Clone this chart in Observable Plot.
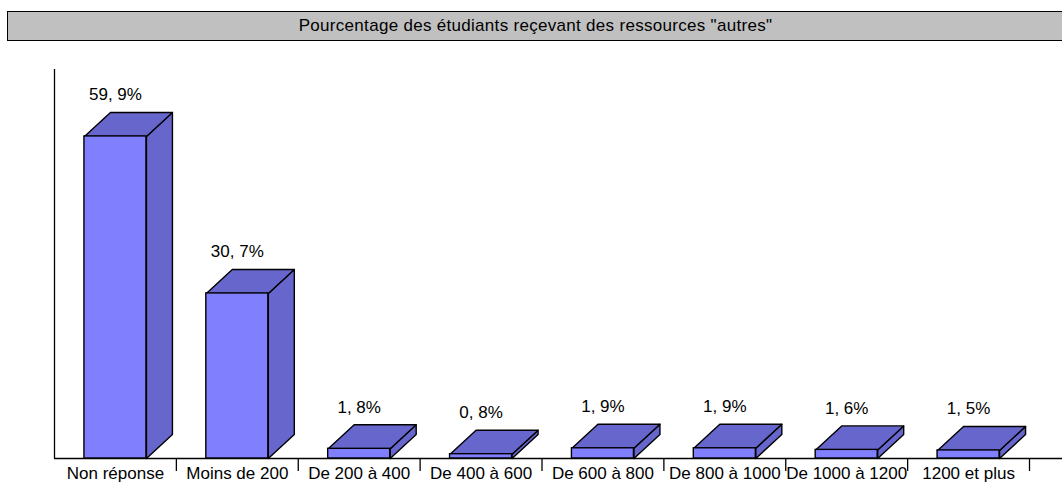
<!DOCTYPE html>
<html>
<head>
<meta charset="utf-8">
<script src="https://cdn.jsdelivr.net/npm/d3@7"></script>
<script src="https://cdn.jsdelivr.net/npm/@observablehq/plot@0.6"></script>
<style>
  html, body { margin: 0; padding: 0; background: #fff; }
  #wrap { position: relative; width: 1062px; height: 483px; overflow: hidden; }
  #title {
    position: absolute; left: 7px; top: 11px; width: 1057px; height: 30px;
    box-sizing: border-box; border: 1.5px solid #000; background: #C0C0C0;
    font-family: "Liberation Sans", Arial, sans-serif; font-size: 17px;
    line-height: 27px; text-align: center; color: #000; letter-spacing: 0.3px;
  }
  #chart { position: absolute; left: 0; top: 0; }
</style>
</head>
<body>
<div id="wrap">
  <div id="chart"></div>
  <div id="title"></div>
</div>
<script>
const titleText = 'Pourcentage des étudiants reçevant des ressources "autres"';
const categories = ["Non réponse", "Moins de 200", "De 200 à 400", "De 400 à 600", "De 600 à 800", "De 800 à 1000", "De 1000 à 1200", "1200 et plus"];
const values = [59.9, 30.7, 1.8, 0.8, 1.9, 1.9, 1.6, 1.5];
const yMax = 72.35;

// layout constants (pixels)
const W = 1062, H = 483, mL = 54, mR = 33, mT = 69, mB = 25;
const pxPerX = (W - mL - mR) / categories.length;
const pxPerY = (H - mT - mB) / yMax;
const depthX = 26 / pxPerX, depthY = 24 / pxPerY;
const halfW = 31 / pxPerX;
const tickLen = 13 / pxPerY;

const bars = categories.map((c, i) => ({
  cat: c, v: values[i], i,
  x0: i + 0.5 - halfW, x1: i + 0.5 + halfW, xc: i + 0.5,
  label: values[i].toFixed(1).replace(".", ", ") + "%"
}));

const tops = [], sides = [];
bars.forEach(b => {
  [[b.x0, b.v], [b.x1, b.v], [b.x1 + depthX, b.v + depthY], [b.x0 + depthX, b.v + depthY]]
    .forEach(([x, y]) => tops.push({id: b.i, x, y}));
  [[b.x1, 0], [b.x1, b.v], [b.x1 + depthX, b.v + depthY], [b.x1 + depthX, depthY]]
    .forEach(([x, y]) => sides.push({id: b.i, x, y}));
});

const boundaries = d3.range(1, categories.length + 1);

const chart = Plot.plot({
  width: W, height: H,
  marginLeft: mL, marginRight: mR, marginTop: mT, marginBottom: mB,
  x: {domain: [0, categories.length], axis: null},
  y: {domain: [0, yMax], axis: null},
  style: {fontFamily: "'Liberation Sans', Arial, sans-serif", fontSize: "17px", background: "transparent", overflow: "visible", color: "#000"},
  marks: [
    Plot.ruleY([0], {x1: 0, x2: categories.length + mR / pxPerX, stroke: "#000", strokeWidth: 1.3}),
    Plot.ruleX([0], {y1: 0, y2: yMax, stroke: "#000", strokeWidth: 1.3}),
    Plot.ruleX(boundaries, {x: d => d, y1: 0, y2: -tickLen, stroke: "#000", strokeWidth: 1.3}),
    Plot.line(sides, {x: "x", y: "y", z: "id", curve: "linear-closed", fill: "#6666CC", stroke: "#000", strokeWidth: 1.4, strokeLinejoin: "round"}),
    Plot.line(tops, {x: "x", y: "y", z: "id", curve: "linear-closed", fill: "#6666CC", stroke: "#000", strokeWidth: 1.4, strokeLinejoin: "round"}),
    Plot.rect(bars, {x1: "x0", x2: "x1", y1: 0, y2: "v", fill: "#8080FF", stroke: "#000", strokeWidth: 1.4}),
    Plot.text(bars, {x: "xc", y: "v", text: "label", dy: -36, lineAnchor: "bottom", fill: "#000", fontSize: 17, style: "letter-spacing:-0.7px"}),
    Plot.text(bars, {x: "xc", y: 0, text: "cat", dy: 20, lineAnchor: "bottom", fill: "#000", fontSize: 17, style: "letter-spacing:-0.5px;word-spacing:2px"})
  ]
});
document.getElementById("chart").appendChild(chart);
document.getElementById("title").textContent = titleText;
</script>
</body>
</html>
